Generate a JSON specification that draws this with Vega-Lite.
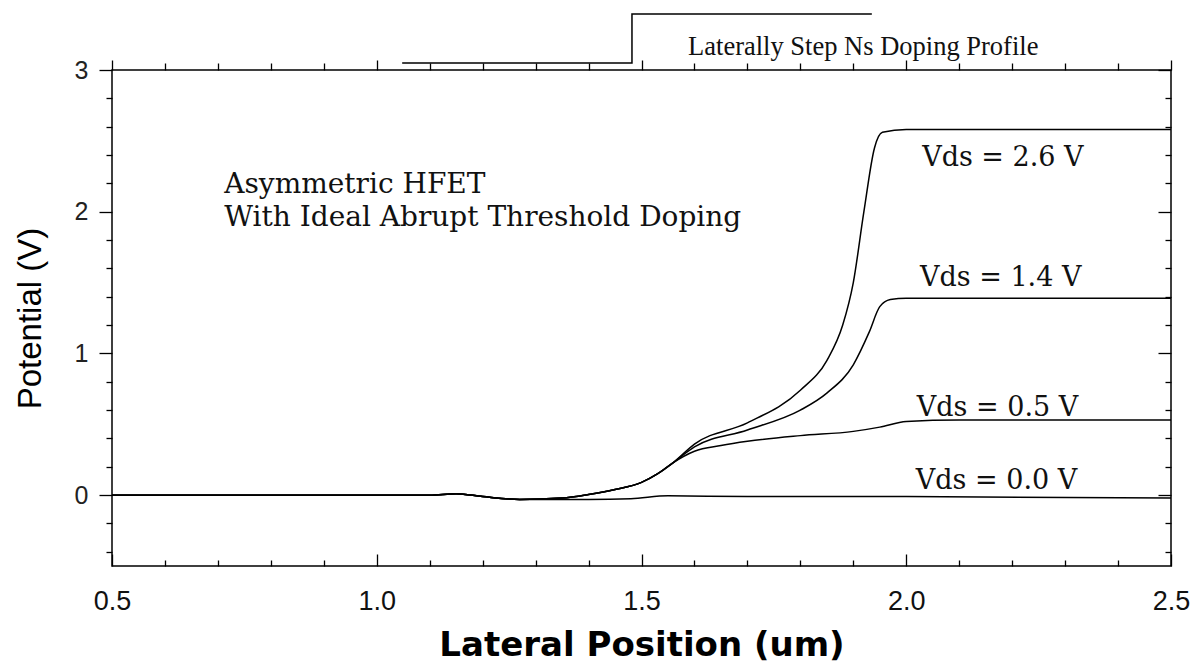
{
  "$schema": "https://vega.github.io/schema/vega-lite/v6.json",
  "width": 1059,
  "height": 496,
  "autosize": {"type": "none"},
  "padding": {"left": 112, "top": 70, "right": 26, "bottom": 100},
  "background": "white",
  "config": {
    "view": {"stroke": "black", "strokeWidth": 1.5},
    "axis": {"grid": false, "domain": false, "tickColor": "black", "tickWidth": 1.3}
  },
  "datasets": {
    "curves": [
      {"x": 0.5, "v": 0, "s": "0.0"}, {"x": 0.8, "v": 0, "s": "0.0"}, {"x": 1.1, "v": 0, "s": "0.0"}, {"x": 1.15, "v": 0.01, "s": "0.0"}, {"x": 1.2, "v": -0.01, "s": "0.0"}, {"x": 1.27, "v": -0.03, "s": "0.0"}, {"x": 1.4, "v": -0.03, "s": "0.0"}, {"x": 1.48, "v": -0.025, "s": "0.0"}, {"x": 1.55, "v": -0.005, "s": "0.0"}, {"x": 1.7, "v": -0.01, "s": "0.0"}, {"x": 2.0, "v": -0.01, "s": "0.0"}, {"x": 2.5, "v": -0.02, "s": "0.0"},
      {"x": 0.5, "v": 0, "s": "0.5"}, {"x": 0.8, "v": 0, "s": "0.5"}, {"x": 1.1, "v": 0, "s": "0.5"}, {"x": 1.15, "v": 0.01, "s": "0.5"}, {"x": 1.2, "v": -0.01, "s": "0.5"}, {"x": 1.27, "v": -0.03, "s": "0.5"}, {"x": 1.35, "v": -0.02, "s": "0.5"}, {"x": 1.4, "v": 0.005, "s": "0.5"}, {"x": 1.45, "v": 0.04, "s": "0.5"}, {"x": 1.5, "v": 0.09, "s": "0.5"}, {"x": 1.53, "v": 0.15, "s": "0.5"}, {"x": 1.56, "v": 0.23, "s": "0.5"}, {"x": 1.6, "v": 0.31, "s": "0.5"}, {"x": 1.65, "v": 0.35, "s": "0.5"}, {"x": 1.7, "v": 0.38, "s": "0.5"}, {"x": 1.8, "v": 0.42, "s": "0.5"}, {"x": 1.9, "v": 0.45, "s": "0.5"}, {"x": 1.95, "v": 0.48, "s": "0.5"}, {"x": 2.0, "v": 0.52, "s": "0.5"}, {"x": 2.1, "v": 0.53, "s": "0.5"}, {"x": 2.5, "v": 0.53, "s": "0.5"},
      {"x": 0.5, "v": 0, "s": "1.4"}, {"x": 0.8, "v": 0, "s": "1.4"}, {"x": 1.1, "v": 0, "s": "1.4"}, {"x": 1.15, "v": 0.01, "s": "1.4"}, {"x": 1.2, "v": -0.01, "s": "1.4"}, {"x": 1.27, "v": -0.03, "s": "1.4"}, {"x": 1.35, "v": -0.02, "s": "1.4"}, {"x": 1.4, "v": 0.005, "s": "1.4"}, {"x": 1.45, "v": 0.04, "s": "1.4"}, {"x": 1.5, "v": 0.09, "s": "1.4"}, {"x": 1.53, "v": 0.15, "s": "1.4"}, {"x": 1.56, "v": 0.23, "s": "1.4"}, {"x": 1.6, "v": 0.34, "s": "1.4"}, {"x": 1.7, "v": 0.46, "s": "1.4"}, {"x": 1.8, "v": 0.6, "s": "1.4"}, {"x": 1.85, "v": 0.72, "s": "1.4"}, {"x": 1.9, "v": 0.92, "s": "1.4"}, {"x": 1.93, "v": 1.15, "s": "1.4"}, {"x": 1.95, "v": 1.33, "s": "1.4"}, {"x": 1.97, "v": 1.38, "s": "1.4"}, {"x": 2.0, "v": 1.39, "s": "1.4"}, {"x": 2.5, "v": 1.39, "s": "1.4"},
      {"x": 0.5, "v": 0, "s": "2.6"}, {"x": 0.8, "v": 0, "s": "2.6"}, {"x": 1.1, "v": 0, "s": "2.6"}, {"x": 1.15, "v": 0.01, "s": "2.6"}, {"x": 1.2, "v": -0.01, "s": "2.6"}, {"x": 1.27, "v": -0.03, "s": "2.6"}, {"x": 1.35, "v": -0.02, "s": "2.6"}, {"x": 1.4, "v": 0.005, "s": "2.6"}, {"x": 1.45, "v": 0.04, "s": "2.6"}, {"x": 1.5, "v": 0.09, "s": "2.6"}, {"x": 1.53, "v": 0.15, "s": "2.6"}, {"x": 1.56, "v": 0.23, "s": "2.6"}, {"x": 1.6, "v": 0.36, "s": "2.6"}, {"x": 1.7, "v": 0.51, "s": "2.6"}, {"x": 1.8, "v": 0.74, "s": "2.6"}, {"x": 1.85, "v": 0.95, "s": "2.6"}, {"x": 1.88, "v": 1.2, "s": "2.6"}, {"x": 1.9, "v": 1.5, "s": "2.6"}, {"x": 1.92, "v": 2.0, "s": "2.6"}, {"x": 1.94, "v": 2.45, "s": "2.6"}, {"x": 1.955, "v": 2.56, "s": "2.6"}, {"x": 2.0, "v": 2.58, "s": "2.6"}, {"x": 2.5, "v": 2.58, "s": "2.6"}
    ],
    "profile": [
      {"x": 1.048, "y": 3.05, "o": 1},
      {"x": 1.482, "y": 3.05, "o": 2},
      {"x": 1.482, "y": 3.396, "o": 3},
      {"x": 1.935, "y": 3.396, "o": 4}
    ],
    "annot": [
      {"x": 0.712, "y": 2.13, "t": "Asymmetric HFET"},
      {"x": 0.712, "y": 1.896, "t": "With Ideal Abrupt Threshold Doping"}
    ],
    "vds": [
      {"x": 2.03, "y": 2.32, "t": "Vds = 2.6 V"},
      {"x": 2.026, "y": 1.479, "t": "Vds = 1.4 V"},
      {"x": 2.02, "y": 0.559, "t": "Vds = 0.5 V"},
      {"x": 2.018, "y": 0.042, "t": "Vds = 0.0 V"}
    ],
    "plabel": [
      {"x": 1.588, "y": 3.106, "t": "Laterally Step Ns Doping Profile"}
    ]
  },
  "layer": [
    {
      "data": {"name": "curves"},
      "mark": {"type": "line", "color": "black", "strokeWidth": 1.5, "interpolate": "monotone"},
      "encoding": {
        "x": {
          "field": "x", "type": "quantitative",
          "scale": {"domain": [0.5, 2.5], "nice": false, "zero": false},
          "axis": {
            "orient": "bottom",
            "values": [0.5, 0.6, 0.7, 0.8, 0.9, 1.0, 1.1, 1.2, 1.3, 1.4, 1.5, 1.6, 1.7, 1.8, 1.9, 2.0, 2.1, 2.2, 2.3, 2.4, 2.5],
            "tickSize": {"condition": {"test": "abs(datum.value*2-round(datum.value*2))<0.001", "value": -12}, "value": -6},
            "labelExpr": "abs(datum.value*2-round(datum.value*2))<0.001 ? format(datum.value,'.1f') : ''",
            "labelFont": "Liberation Sans", "labelFontSize": 27, "labelColor": "#111",
            "labelPadding": 34, "labelFlush": false, "labelOverlap": false,
            "title": "Lateral Position (um)",
            "titleFont": "DejaVu Sans", "titleFontWeight": "bold", "titleFontSize": 34, "titleColor": "#000",
            "titleY": 89, "titleBaseline": "alphabetic"
          }
        },
        "y": {
          "field": "v", "type": "quantitative",
          "scale": {"domain": [-0.5, 3], "nice": false, "zero": false},
          "axis": {
            "orient": "left",
            "values": [-0.4, -0.2, 0, 0.2, 0.4, 0.6, 0.8, 1, 1.2, 1.4, 1.6, 1.8, 2, 2.2, 2.4, 2.6, 2.8, 3],
            "tickSize": {"condition": {"test": "abs(datum.value-round(datum.value))<0.001", "value": 13}, "value": 6},
            "labelExpr": "abs(datum.value-round(datum.value))<0.001 ? format(datum.value,'d') : ''",
            "labelFont": "Liberation Sans", "labelFontSize": 25, "labelColor": "#222",
            "labelPadding": 11, "labelFlush": false, "labelOverlap": false,
            "title": "Potential (V)",
            "titleFont": "Liberation Sans", "titleFontWeight": "normal", "titleFontSize": 33, "titleColor": "#000",
            "titleX": -82, "titleY": 248, "titleBaseline": "middle", "titleAlign": "center", "titleAngle": -90
          }
        },
        "detail": {"field": "s"}
      }
    },
    {
      "data": {"name": "vds"},
      "mark": {"type": "text", "align": "left", "baseline": "alphabetic", "font": "DejaVu Serif", "fontSize": 27, "color": "#111"},
      "encoding": {
        "x": {
          "field": "x", "type": "quantitative",
          "axis": {
            "orient": "top",
            "values": [0.5, 0.6, 0.7, 0.8, 0.9, 1.0, 1.1, 1.2, 1.3, 1.4, 1.5, 1.6, 1.7, 1.8, 1.9, 2.0, 2.1, 2.2, 2.3, 2.4, 2.5],
            "tickSize": {"condition": {"test": "abs(datum.value*2-round(datum.value*2))<0.001", "value": 10}, "value": 7},
            "labels": false, "title": null
          }
        },
        "y": {
          "field": "y", "type": "quantitative",
          "axis": {
            "orient": "right",
            "values": [-0.4, -0.2, 0, 0.2, 0.4, 0.6, 0.8, 1, 1.2, 1.4, 1.6, 1.8, 2, 2.2, 2.4, 2.6, 2.8, 3],
            "tickSize": {"condition": {"test": "abs(datum.value-round(datum.value))<0.001", "value": -13}, "value": -6},
            "labels": false, "title": null
          }
        },
        "text": {"field": "t"}
      }
    },
    {
      "data": {"name": "annot"},
      "mark": {"type": "text", "align": "left", "baseline": "alphabetic", "font": "DejaVu Serif", "fontSize": 28, "color": "#111"},
      "encoding": {
        "x": {"field": "x", "type": "quantitative", "axis": null},
        "y": {"field": "y", "type": "quantitative", "axis": null},
        "text": {"field": "t"}
      }
    },
    {
      "data": {"name": "plabel"},
      "mark": {"type": "text", "align": "left", "baseline": "alphabetic", "font": "Liberation Serif", "fontSize": 26.5, "color": "#111"},
      "encoding": {
        "x": {"field": "x", "type": "quantitative", "axis": null},
        "y": {"field": "y", "type": "quantitative", "axis": null},
        "text": {"field": "t"}
      }
    },
    {
      "data": {"name": "profile"},
      "mark": {"type": "line", "color": "black", "strokeWidth": 1.5, "interpolate": "linear"},
      "encoding": {
        "x": {"field": "x", "type": "quantitative", "axis": null},
        "y": {"field": "y", "type": "quantitative", "axis": null},
        "order": {"field": "o", "type": "quantitative"}
      }
    }
  ],
  "resolve": {"axis": {"x": "independent", "y": "independent"}}
}
